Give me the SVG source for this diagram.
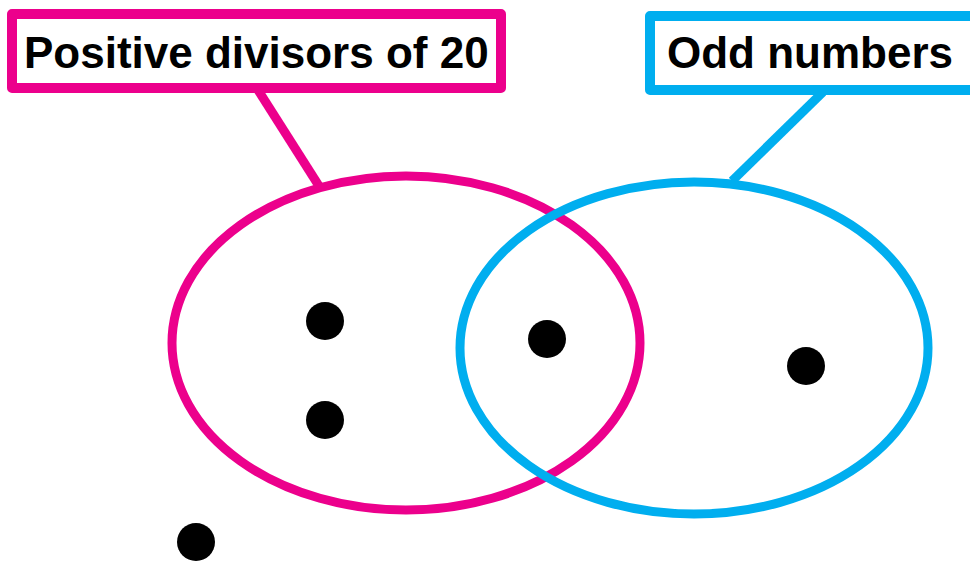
<svg xmlns="http://www.w3.org/2000/svg" width="970" height="561" viewBox="0 0 970 561">
  <style>
    .pink { stroke: #EC008C; }
    .blue { stroke: #00AEEF; }
    .ring { fill: none; stroke-width: 9; }
    .box { fill: #FFFFFF; stroke-width: 10; stroke-linejoin: round; }
    .lead { fill: none; stroke-width: 9; }
    .label { font-family: "Liberation Sans", Arial, sans-serif; font-weight: bold; font-size: 44px; fill: #000000; }
    .dot { fill: #000000; }
  </style>
  <rect width="970" height="561" fill="#FFFFFF"/>

  <!-- leader lines from labels to sets -->
  <g id="connectors">
    <line class="lead pink" x1="258" y1="90" x2="319" y2="186"/>
    <line class="lead blue" x1="823" y1="92" x2="732" y2="181"/>
  </g>

  <g id="set-divisors">
    <ellipse class="ring pink" cx="406" cy="343" rx="234" ry="167"/>
  </g>
  <g id="set-odd">
    <ellipse class="ring blue" cx="694" cy="348" rx="234" ry="166"/>
  </g>

  <g id="label-divisors">
    <rect class="box pink" x="12" y="14" width="489" height="74"/>
    <text class="label" x="24" y="68">Positive divisors of 20</text>
  </g>
  <g id="label-odd">
    <rect class="box blue" x="650" y="16" width="340" height="74"/>
    <text class="label" x="667" y="68">Odd numbers</text>
  </g>

  <g id="elements">
    <circle class="dot" cx="325" cy="321" r="19"/>
    <circle class="dot" cx="325" cy="420" r="19"/>
    <circle class="dot" cx="547" cy="339" r="19"/>
    <circle class="dot" cx="806" cy="366" r="19"/>
    <circle class="dot" cx="196" cy="542" r="19"/>
  </g>
</svg>
